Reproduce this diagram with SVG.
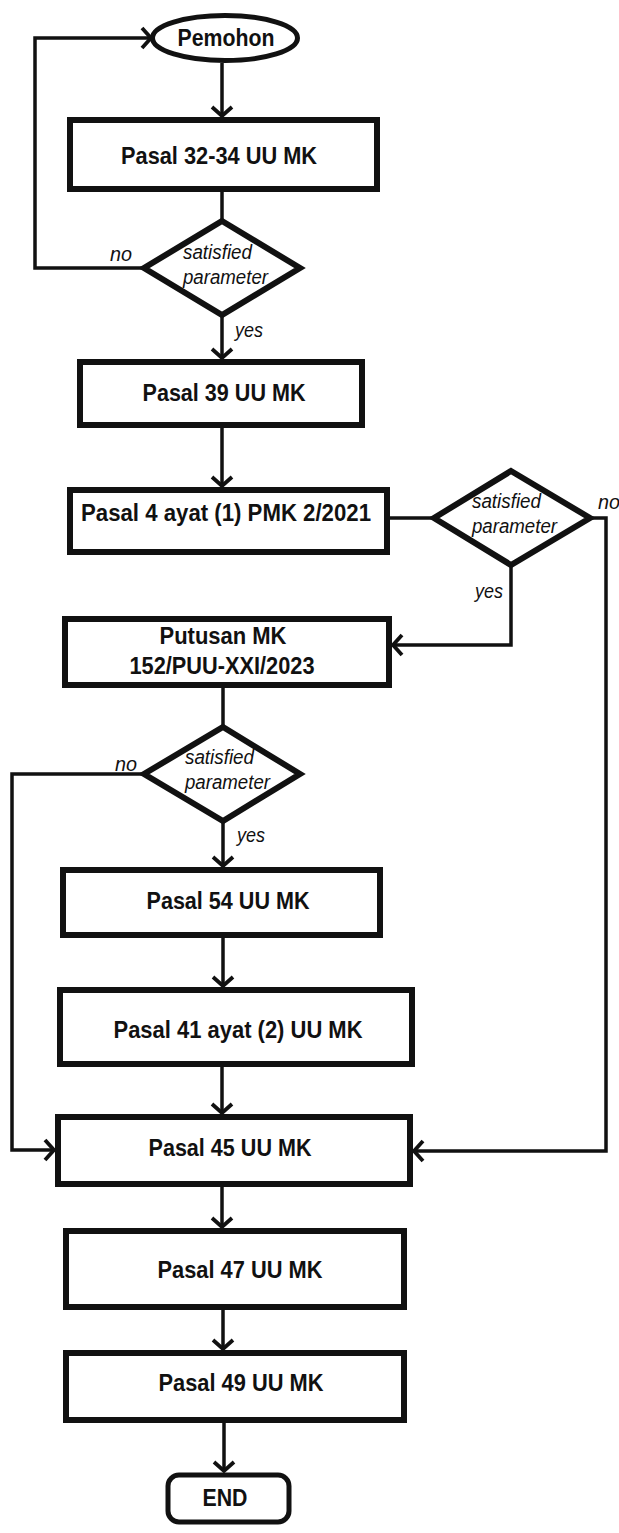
<svg xmlns="http://www.w3.org/2000/svg" width="619" height="1533" viewBox="0 0 619 1533">
<style>
.box{fill:#fff;stroke:#111;stroke-width:6}
.dia{fill:#fff;stroke:#111;stroke-width:6;stroke-linejoin:miter}
.t{font-family:"Liberation Sans",Arial,sans-serif;font-weight:bold;font-size:24px;fill:#111;text-anchor:middle}
.d{font-family:"Liberation Sans",Arial,sans-serif;font-style:italic;font-size:20px;fill:#111}
.c{fill:none;stroke:#111;stroke-width:3.5}
.a{marker-end:url(#arr)}
</style>
<defs>
<marker id="arr" markerUnits="userSpaceOnUse" markerWidth="30" markerHeight="30" viewBox="-15 -15 30 30" refX="0" refY="0" orient="auto">
<path d="M -9 -10 L 0 0 L -9 10" fill="none" stroke="#111" stroke-width="3.8"/>
</marker>
</defs>
<rect width="619" height="1533" fill="#fff"/>
<g id="connectors">
<path class="c a" d="M222 63 L222 116"/>
<path class="c" d="M222 192 L222 219"/>
<path class="c a" d="M222 316 L222 358"/>
<path class="c a" d="M222 428 L222 486"/>
<path class="c" d="M390 518 L432 518"/>
<path class="c a" d="M511 566 L511 645 L393 645"/>
<path class="c a" d="M591 518 L606 518 L606 1151 L414 1151"/>
<path class="c" d="M223 688 L223 725"/>
<path class="c a" d="M142 774 L12 774 L12 1150 L54 1150"/>
<path class="c a" d="M142 268 L35 268 L35 38 L151 38"/>
<path class="c a" d="M223 823 L223 866"/>
<path class="c a" d="M223 938 L223 986"/>
<path class="c a" d="M222 1067 L222 1113"/>
<path class="c a" d="M222 1187 L222 1227"/>
<path class="c a" d="M223 1310 L223 1349"/>
<path class="c a" d="M224 1423 L224 1471"/>
</g>
<g id="pemohon">
<ellipse cx="225" cy="38" rx="72.5" ry="22.5" fill="#fff" stroke="#111" stroke-width="5"/>
<text class="t" x="226" y="46" textLength="97" lengthAdjust="spacingAndGlyphs">Pemohon</text>
</g>
<g id="pasal32">
<rect class="box" x="70" y="120" width="307" height="69"/>
<text class="t" x="219" y="164" textLength="196" lengthAdjust="spacingAndGlyphs">Pasal 32-34 UU MK</text>
</g>
<g id="decision1">
<polygon class="dia" points="222,221 300,268 222,315 144,268"/>
<text class="d" x="183" y="259" textLength="69" lengthAdjust="spacingAndGlyphs">satisfied</text>
<text class="d" x="183" y="284" textLength="85" lengthAdjust="spacingAndGlyphs">parameter</text>
<text class="d" x="110" y="261" textLength="22" lengthAdjust="spacingAndGlyphs">no</text>
<text class="d" x="235" y="337" textLength="28" lengthAdjust="spacingAndGlyphs">yes</text>
</g>
<g id="pasal39">
<rect class="box" x="80" y="362" width="282" height="63"/>
<text class="t" x="224" y="401" textLength="163" lengthAdjust="spacingAndGlyphs">Pasal 39 UU MK</text>
</g>
<g id="pasal4">
<rect class="box" x="70" y="490" width="317" height="62"/>
<text class="t" x="226" y="521" textLength="290" lengthAdjust="spacingAndGlyphs">Pasal 4 ayat (1) PMK 2/2021</text>
</g>
<g id="decision2">
<polygon class="dia" points="511,471 590,518 511,565 434,518"/>
<text class="d" x="472" y="508" textLength="69" lengthAdjust="spacingAndGlyphs">satisfied</text>
<text class="d" x="472" y="533" textLength="85" lengthAdjust="spacingAndGlyphs">parameter</text>
<text class="d" x="598" y="509" textLength="22" lengthAdjust="spacingAndGlyphs">no</text>
<text class="d" x="475" y="598" textLength="28" lengthAdjust="spacingAndGlyphs">yes</text>
</g>
<g id="putusan">
<rect class="box" x="65" y="619" width="324" height="66"/>
<text class="t" x="223" y="644" textLength="127" lengthAdjust="spacingAndGlyphs">Putusan MK</text>
<text class="t" x="222" y="674" textLength="185" lengthAdjust="spacingAndGlyphs">152/PUU-XXI/2023</text>
</g>
<g id="decision3">
<polygon class="dia" points="223,727 300,774 223,821 144,774"/>
<text class="d" x="185" y="764" textLength="69" lengthAdjust="spacingAndGlyphs">satisfied</text>
<text class="d" x="185" y="789" textLength="85" lengthAdjust="spacingAndGlyphs">parameter</text>
<text class="d" x="115" y="771" textLength="22" lengthAdjust="spacingAndGlyphs">no</text>
<text class="d" x="237" y="842" textLength="28" lengthAdjust="spacingAndGlyphs">yes</text>
</g>
<g id="pasal54">
<rect class="box" x="63" y="870" width="317" height="65"/>
<text class="t" x="228" y="909" textLength="163" lengthAdjust="spacingAndGlyphs">Pasal 54 UU MK</text>
</g>
<g id="pasal41">
<rect class="box" x="60" y="990" width="352" height="74"/>
<text class="t" x="238" y="1038" textLength="249" lengthAdjust="spacingAndGlyphs">Pasal 41 ayat (2) UU MK</text>
</g>
<g id="pasal45">
<rect class="box" x="58" y="1117" width="352" height="67"/>
<text class="t" x="230" y="1156" textLength="163" lengthAdjust="spacingAndGlyphs">Pasal 45 UU MK</text>
</g>
<g id="pasal47">
<rect class="box" x="66" y="1231" width="338" height="76"/>
<text class="t" x="240" y="1278" textLength="165" lengthAdjust="spacingAndGlyphs">Pasal 47 UU MK</text>
</g>
<g id="pasal49">
<rect class="box" x="66" y="1353" width="338" height="67"/>
<text class="t" x="241" y="1391" textLength="165" lengthAdjust="spacingAndGlyphs">Pasal 49 UU MK</text>
</g>
<g id="end">
<rect x="168" y="1475" width="121" height="47" rx="11" fill="#fff" stroke="#111" stroke-width="5"/>
<text class="t" x="225" y="1506" textLength="45" lengthAdjust="spacingAndGlyphs">END</text>
</g>
</svg>
